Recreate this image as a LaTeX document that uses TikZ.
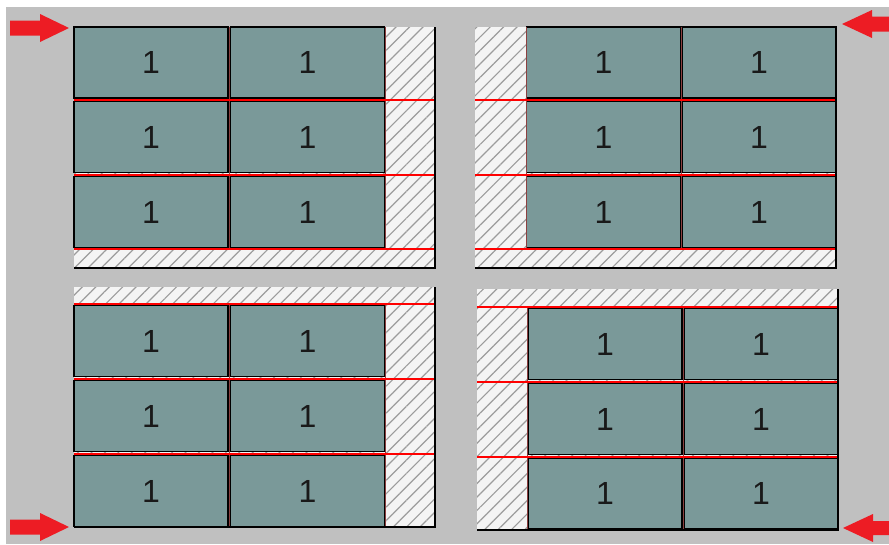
\documentclass[tikz,border=0pt]{standalone}
\usepackage{fontspec}
\setmainfont{Liberation Sans}
\usepackage{xcolor}
\definecolor{panelgray}{HTML}{C0C0C0}
\definecolor{cellteal}{HTML}{7A9999}
\definecolor{hatchbg}{HTML}{F4F4F4}
\definecolor{hatchline}{HTML}{9C9C9C}
\definecolor{markred}{HTML}{ED1C24}
\definecolor{seamred}{HTML}{8C4040}
\usepackage{tikz}
\usetikzlibrary{patterns.meta}

\tikzset{
  cell/.style={draw=black, line width=1.5pt, fill=cellteal, minimum width=154pt,
    minimum height=71pt, inner sep=0pt, text=black!90,
    font=\fontsize{32}{32}\selectfont},
  hatchfill/.style={fill=hatchbg, postaction={pattern={Lines[angle=45,distance=9.5pt,line width=1.2pt]},
    pattern color=hatchline}},
  rowline/.style={red, line width=2pt},
  seamline/.style={seamred, line width=1pt},
  edgeline/.style={black, line width=1.8pt},
  pointer/.style={fill=markred},
}

\begin{document}
\begin{tikzpicture}[x=1pt, y=-1pt]
  % page and grey ground
  \useasboundingbox (0,0) rectangle (889,544);
  \fill[white] (0,0) rectangle (889,544);
  \fill[panelgray] (6,7) rectangle (889,544);

  % top left panel
  \path[hatchfill] (74,27) rectangle (435,268);
  \foreach \r/\y in {1/62.5,2/137,3/212}
    \foreach \c/\x in {1/151,2/307.5}
      \node[cell] (tl-\r-\c) at (\x,\y) {1};
  \draw[seamline] (229,27) -- (229,248);
  \draw[seamline] (385,27) -- (385,248);
  \foreach \y in {99.5,174.5,249}
    \draw[rowline] (74,\y) -- (435,\y);
  \draw[edgeline] (435,27) -- (435,268) -- (74,268);

  % top right panel
  \path[hatchfill] (475,27) rectangle (836,268);
  \foreach \r/\y in {1/62.5,2/137,3/212}
    \foreach \c/\x in {1/603.5,2/759}
      \node[cell] (tr-\r-\c) at (\x,\y) {1};
  \draw[seamline] (526,27) -- (526,248);
  \draw[seamline] (681,27) -- (681,248);
  \foreach \y in {99.5,174.5,249}
    \draw[rowline] (475,\y) -- (836,\y);
  \draw[edgeline] (836,27) -- (836,268) -- (475,268);

  % bottom left panel
  \path[hatchfill] (74,287) rectangle (435,527);
  \foreach \r/\y in {1/341,2/416,3/491}
    \foreach \c/\x in {1/151,2/307.5}
      \node[cell] (bl-\r-\c) at (\x,\y) {1};
  \draw[seamline] (229,304) -- (229,527);
  \draw[seamline] (385,304) -- (385,527);
  \foreach \y in {304,378.5,453.5}
    \draw[rowline] (74,\y) -- (435,\y);
  \draw[edgeline] (435,287) -- (435,527) -- (74,527);

  % bottom right panel
  \path[hatchfill] (477,289) rectangle (838,530);
  \foreach \r/\y in {1/344,2/419,3/493.5}
    \foreach \c/\x in {1/605,2/761}
      \node[cell] (br-\r-\c) at (\x,\y) {1};
  \draw[seamline] (527.5,307) -- (527.5,530);
  \draw[seamline] (683,307) -- (683,530);
  \foreach \y in {307,381.5,456.5}
    \draw[rowline] (477,\y) -- (838,\y);
  \draw[edgeline] (838,289) -- (838,530) -- (477,530);

  % corner pointers
  \fill[pointer] (10,20.5) -- (40,20.5) -- (40,14) -- (69,28) -- (40,42) -- (40,35.5) -- (10,35.5) -- cycle;
  \fill[pointer] (889,16.5) -- (872,16.5) -- (872,10) -- (842,24) -- (872,38) -- (872,31.5) -- (889,31.5) -- cycle;
  \fill[pointer] (10,519.5) -- (40,519.5) -- (40,513) -- (69,527) -- (40,541) -- (40,534.5) -- (10,534.5) -- cycle;
  \fill[pointer] (889,521) -- (873,521) -- (873,514) -- (843,528) -- (873,542) -- (873,535) -- (889,535) -- cycle;
\end{tikzpicture}
\end{document}
